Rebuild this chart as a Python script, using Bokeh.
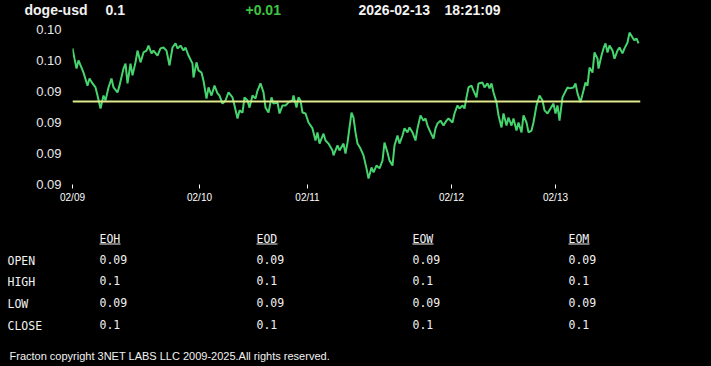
from bokeh.plotting import figure
from bokeh.models import Range1d, FixedTicker, Span
from bokeh.layouts import column
from bokeh.core.properties import value
from bokeh.embed import file_html
from bokeh.resources import INLINE

# ---------------- data ----------------
symbol = "doge-usd"
last_price = "0.1"
change = "+0.01"
date_str = "2026-02-13"
time_str = "18:21:09"

idx = [0, 2, 4, 6, 9, 11, 15, 17, 20, 23, 25, 28, 31, 33, 36, 39, 41, 45, 47, 51,
       53, 55, 58, 60, 63, 65, 68, 71, 74, 76, 79, 81, 85, 88, 91, 94, 97, 100, 103, 105,
       108, 111, 113, 116, 120, 121, 124, 126, 129, 131, 134, 136, 139, 142, 145, 147, 150, 153, 156, 160,
       162, 165, 167, 170, 172, 175, 177, 180, 183, 185, 188, 191, 193, 196, 199, 201, 205, 207, 210, 213,
       216, 220, 221, 224, 226, 228, 230, 233, 236, 240, 243, 245, 247, 251, 253, 256, 260, 261, 265, 267,
       271, 273, 275, 279, 281, 283, 285, 288, 291, 294, 296, 299, 301, 304, 307, 310, 312, 315, 317, 320,
       322, 325, 327, 330, 332, 335, 337, 340, 343, 345, 348, 351, 353, 355, 358, 361, 363, 365, 368, 371,
       374, 376, 380, 382, 385, 387, 390, 392, 394, 396, 399, 401, 404, 406, 410, 412, 415, 417, 419, 421,
       424, 426, 429, 431, 434, 436, 439, 441, 444, 446, 449, 451, 454, 456, 459, 461, 464, 467, 470, 472,
       475, 478, 481, 483, 485, 487, 490, 492, 495, 497, 501, 503, 505, 508, 511, 513, 515, 517, 520, 522,
       525, 526, 529, 531, 533, 535, 537, 540, 542, 545, 547, 550, 552, 555, 557, 560, 562, 564, 566]

price = [0.09539, 0.09506, 0.09474, 0.09500, 0.09477, 0.09461, 0.09419, 0.09442, 0.09426, 0.09413,
         0.09387, 0.09345, 0.09387, 0.09371, 0.09413, 0.09442, 0.09413, 0.09397, 0.09419, 0.09474,
         0.09490, 0.09426, 0.09490, 0.09452, 0.09494, 0.09532, 0.09494, 0.09526, 0.09532, 0.09548,
         0.09523, 0.09532, 0.09516, 0.09539, 0.09542, 0.09532, 0.09484, 0.09542, 0.09555, 0.09539,
         0.09548, 0.09532, 0.09542, 0.09516, 0.09490, 0.09445, 0.09494, 0.09468, 0.09461, 0.09435,
         0.09377, 0.09413, 0.09387, 0.09419, 0.09394, 0.09387, 0.09361, 0.09371, 0.09397, 0.09381,
         0.09355, 0.09313, 0.09339, 0.09332, 0.09381, 0.09371, 0.09348, 0.09387, 0.09377, 0.09403,
         0.09426, 0.09397, 0.09348, 0.09332, 0.09381, 0.09361, 0.09365, 0.09329, 0.09355, 0.09355,
         0.09365, 0.09371, 0.09387, 0.09348, 0.09381, 0.09371, 0.09332, 0.09329, 0.09300, 0.09281,
         0.09242, 0.09268, 0.09232, 0.09264, 0.09242, 0.09232, 0.09210, 0.09194, 0.09226, 0.09210,
         0.09232, 0.09200, 0.09235, 0.09332, 0.09316, 0.09268, 0.09232, 0.09216, 0.09194, 0.09152,
         0.09119, 0.09155, 0.09139, 0.09161, 0.09152, 0.09177, 0.09235, 0.09203, 0.09177, 0.09161,
         0.09226, 0.09258, 0.09232, 0.09258, 0.09281, 0.09268, 0.09284, 0.09268, 0.09242, 0.09281,
         0.09323, 0.09306, 0.09313, 0.09290, 0.09268, 0.09248, 0.09281, 0.09297, 0.09306, 0.09290,
         0.09306, 0.09313, 0.09300, 0.09329, 0.09355, 0.09345, 0.09355, 0.09345, 0.09381, 0.09413,
         0.09419, 0.09403, 0.09381, 0.09426, 0.09429, 0.09413, 0.09426, 0.09410, 0.09426, 0.09397,
         0.09365, 0.09323, 0.09284, 0.09329, 0.09290, 0.09316, 0.09290, 0.09313, 0.09274, 0.09300,
         0.09268, 0.09323, 0.09300, 0.09268, 0.09274, 0.09300, 0.09355, 0.09387, 0.09371, 0.09339,
         0.09329, 0.09345, 0.09361, 0.09329, 0.09355, 0.09306, 0.09381, 0.09394, 0.09413, 0.09410,
         0.09413, 0.09426, 0.09394, 0.09365, 0.09403, 0.09429, 0.09419, 0.09477, 0.09461, 0.09526,
         0.09506, 0.09474, 0.09516, 0.09539, 0.09555, 0.09526, 0.09548, 0.09532, 0.09506, 0.09532,
         0.09542, 0.09523, 0.09539, 0.09558, 0.09590, 0.09574, 0.09565, 0.09571, 0.09555]

ref_price = 0.09368

x_tick_pos = [0, 127, 235, 379, 483]
x_tick_labels = ["02/09", "02/10", "02/11", "02/12", "02/13"]
y_tick_vals = [0.091, 0.092, 0.093, 0.094, 0.095, 0.096]
y_tick_labels = ["0.09", "0.09", "0.09", "0.09", "0.10", "0.10"]

col_names = ["EOH", "EOD", "EOW", "EOM"]
row_names = ["OPEN", "HIGH", "LOW", "CLOSE"]
eoh_vals = ["0.09", "0.1", "0.09", "0.1"]
eod_vals = ["0.09", "0.1", "0.09", "0.1"]
eow_vals = ["0.09", "0.1", "0.09", "0.1"]
eom_vals = ["0.09", "0.1", "0.09", "0.1"]
footer = "Fracton copyright 3NET LABS LLC 2009-2025.All rights reserved."

# ---------------- styling helpers ----------------
W = 711
BG = "#000000"
LINE_C = "#46d46e"
REF_C = "#e0ea8c"
TXT_C = "#f2f2f2"


def blank(h):
    f = figure(width=W, height=h, x_range=Range1d(0, W), y_range=Range1d(h, 0),
               output_backend="svg", toolbar_location=None,
               x_axis_location=None, y_axis_location=None, min_border=0)
    f.frame_align = False
    f.background_fill_color = BG
    f.border_fill_color = BG
    f.outline_line_color = None
    f.grid.visible = False
    return f

# ---------------- header ----------------
p0 = blank(20)
p0.text(x=[24, 105, 245, 358, 444], y=[9.5] * 5,
        text=[symbol, last_price, change, date_str, time_str],
        text_color=[TXT_C, TXT_C, "#3fc43f", TXT_C, TXT_C],
        text_font=value("Liberation Sans"), text_font_style="bold",
        text_font_size="14px", text_baseline="middle", text_align="left")

# ---------------- chart ----------------
p1 = figure(width=W, height=190, x_range=Range1d(0, 568), y_range=Range1d(0.091, 0.096),
            output_backend="svg", toolbar_location=None,
            min_border_left=72, min_border_right=71, min_border_top=9, min_border_bottom=26)
p1.frame_align = False
p1.background_fill_color = BG
p1.border_fill_color = BG
p1.outline_line_color = None
p1.grid.visible = False

p1.line(idx, price, line_color=LINE_C, line_width=2)
p1.add_layout(Span(location=ref_price, dimension="width", line_color=REF_C, line_width=2))

xa = p1.xaxis[0]
xa.ticker = FixedTicker(ticks=x_tick_pos)
xa.major_label_overrides = dict(zip(x_tick_pos, x_tick_labels))
xa.axis_line_color = None
xa.major_tick_line_color = "#ffffff"
xa.major_tick_in = 0
xa.major_tick_out = 4
xa.minor_tick_line_color = None
xa.major_label_standoff = 3
xa.major_label_text_color = "#ffffff"
xa.major_label_text_font = "Liberation Sans"
xa.major_label_text_font_size = "10px"

ya = p1.yaxis[0]
ya.ticker = FixedTicker(ticks=y_tick_vals)
ya.major_label_overrides = dict(zip(y_tick_vals, y_tick_labels))
ya.axis_line_color = None
ya.major_tick_line_color = None
ya.major_tick_in = 0
ya.major_tick_out = 0
ya.minor_tick_line_color = None
ya.major_label_standoff = 11
ya.major_label_text_color = "#e8e8e8"
ya.major_label_text_font = "Liberation Sans"
ya.major_label_text_font_size = "13px"

# ---------------- table ----------------
p2 = blank(156)
col_x = [99, 256, 412, 568]
mono = value("DejaVu Sans Mono")
p2.text(x=col_x, y=[28.5] * 4, text=col_names, text_color=TXT_C, text_font=mono,
        text_font_size="11.5px", text_baseline="middle")
p2.segment(x0=col_x, y0=[33.5] * 4, x1=[c + 21 for c in col_x], y1=[33.5] * 4,
           line_color=TXT_C, line_width=1)
row_y = [50.5, 71.5, 93.5, 115.5]
p2.text(x=[7] * 4, y=row_y, text=row_names, text_color=TXT_C, text_font=mono,
        text_font_size="11.5px", text_baseline="middle")
val_y = [48.5, 70.2, 92.2, 114.2]
for cx, vals in zip(col_x, [eoh_vals, eod_vals, eow_vals, eom_vals]):
    p2.text(x=[cx] * 4, y=val_y, text=vals, text_color=TXT_C, text_font=mono,
            text_font_size="11.5px", text_baseline="middle")
p2.text(x=[9], y=[145], text=[footer], text_color=TXT_C, text_font=value("Liberation Sans"),
        text_font_size="11px", text_baseline="middle")

layout = column(p0, p1, p2, spacing=0)
html = file_html(layout, INLINE)
html = html.replace("</head>", "<style>html,body{margin:0;padding:0;background:#000000;overflow:hidden;}</style></head>", 1)
open("out.html", "w").write(html)
